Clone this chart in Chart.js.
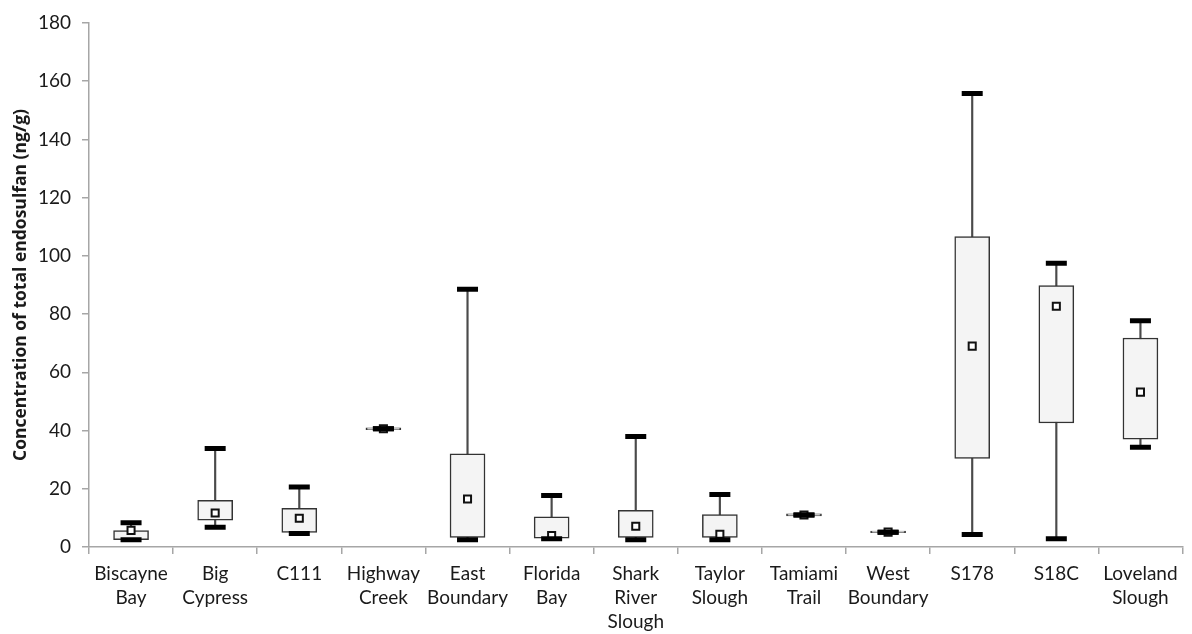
<!DOCTYPE html>
<html><head><meta charset="utf-8">
<script src="https://cdn.jsdelivr.net/npm/chart.js@4.4.1/dist/chart.umd.min.js"></script>
<style>html,body{margin:0;padding:0;background:#fff;overflow:hidden}#wrap{width:1198px;height:634px}</style>
</head><body><div id="wrap"><canvas id="c" width="1198" height="634"></canvas></div>
<script>
const categories = [['Biscayne','Bay'],['Big','Cypress'],['C111'],['Highway','Creek'],['East','Boundary'],['Florida','Bay'],['Shark','River','Slough'],['Taylor','Slough'],['Tamiami','Trail'],['West','Boundary'],['S178'],['S18C'],['Loveland','Slough']];
const mins  = [2.5, 6.8, 4.6, 40.6, 2.5, 2.8, 2.5, 2.5, 11.0, 5.1, 4.3, 2.8, 34.3];
const q1    = [2.5, 9.2, 5.0, 40.3, 3.3, 3.0, 3.3, 3.3, 10.7, 4.9, 30.4, 42.6, 37.0];
const q3    = [5.6, 16.0, 13.3, 40.9, 32.0, 10.4, 12.6, 11.1, 11.4, 5.5, 106.6, 89.8, 71.8];
const maxs  = [8.3, 33.8, 20.6, 40.6, 88.5, 17.7, 38.0, 18.0, 11.0, 5.1, 155.8, 97.5, 77.7];
const means = [5.7, 11.7, 9.9, 40.6, 16.5, 3.9, 7.1, 4.4, 11.0, 5.1, 69.0, 82.7, 53.2];
const yTitle = 'Concentration of total endosulfan (ng/g)';

const axisColor = '#a6a6a6';
const textColor = '#1a1a1a';
const ctx = document.getElementById('c').getContext('2d');
new Chart(ctx, {
  type: 'bar',
  data: {
    labels: categories,
    datasets: [
      { type:'bar', data: mins.map((v,i)=>[v,maxs[i]]), backgroundColor:'#4a4a4a', borderWidth:0, barThickness:1.5, grouped:false, order:4 },
      { type:'bar', data: q1.map((v,i)=>[v,q3[i]]), backgroundColor:'#f4f4f4', borderColor:'#333', borderWidth:1.5, borderSkipped:false, barThickness:35, grouped:false, order:3 },
      { type:'line', data: means, showLine:false, pointStyle:'rect', pointRadius:5, pointBackgroundColor:'#fff', pointBorderColor:'#111', pointBorderWidth:2, order:2 },
      { type:'line', data: mins, showLine:false, pointStyle:'line', pointRadius:10.5, pointBorderColor:'#000', pointBackgroundColor:'#000', pointBorderWidth:5, order:1 },
      { type:'line', data: maxs, showLine:false, pointStyle:'line', pointRadius:10.5, pointBorderColor:'#000', pointBackgroundColor:'#000', pointBorderWidth:5, order:1 }
    ]
  },
  options: {
    responsive: false, animation: false, devicePixelRatio: 1,
    layout: { padding: { top: 23, left: 0, right: 0, bottom: 0 } },
    plugins: { legend: { display: false }, tooltip: { enabled: false } },
    scales: {
      x: {
        grid: { display: true, drawOnChartArea: false, offset: true, tickLength: 7, color: axisColor, lineWidth: 1.5 },
        border: { color: axisColor, width: 1.5 },
        ticks: { font: { family: 'Lato', size: 19, lineHeight: 1.25 }, color: textColor, padding: 8, maxRotation: 0, autoSkip: false },
        afterFit(s) { s.height = 87; }
      },
      y: {
        min: 0, max: 180,
        ticks: { stepSize: 20, font: { family: 'Lato', size: 19 }, color: textColor, padding: 11 },
        grid: { drawOnChartArea: false, tickLength: 7, color: axisColor, lineWidth: 1.5 },
        border: { color: axisColor, width: 1.5 },
        title: { display: true, text: yTitle, font: { family: 'Open Sans', size: 17.5, weight: 'bold' }, color: textColor, padding: { top: 11, bottom: 0 } },
        afterFit(s) { s.width = 89; }
      }
    }
  }
});
</script>
</body></html>
